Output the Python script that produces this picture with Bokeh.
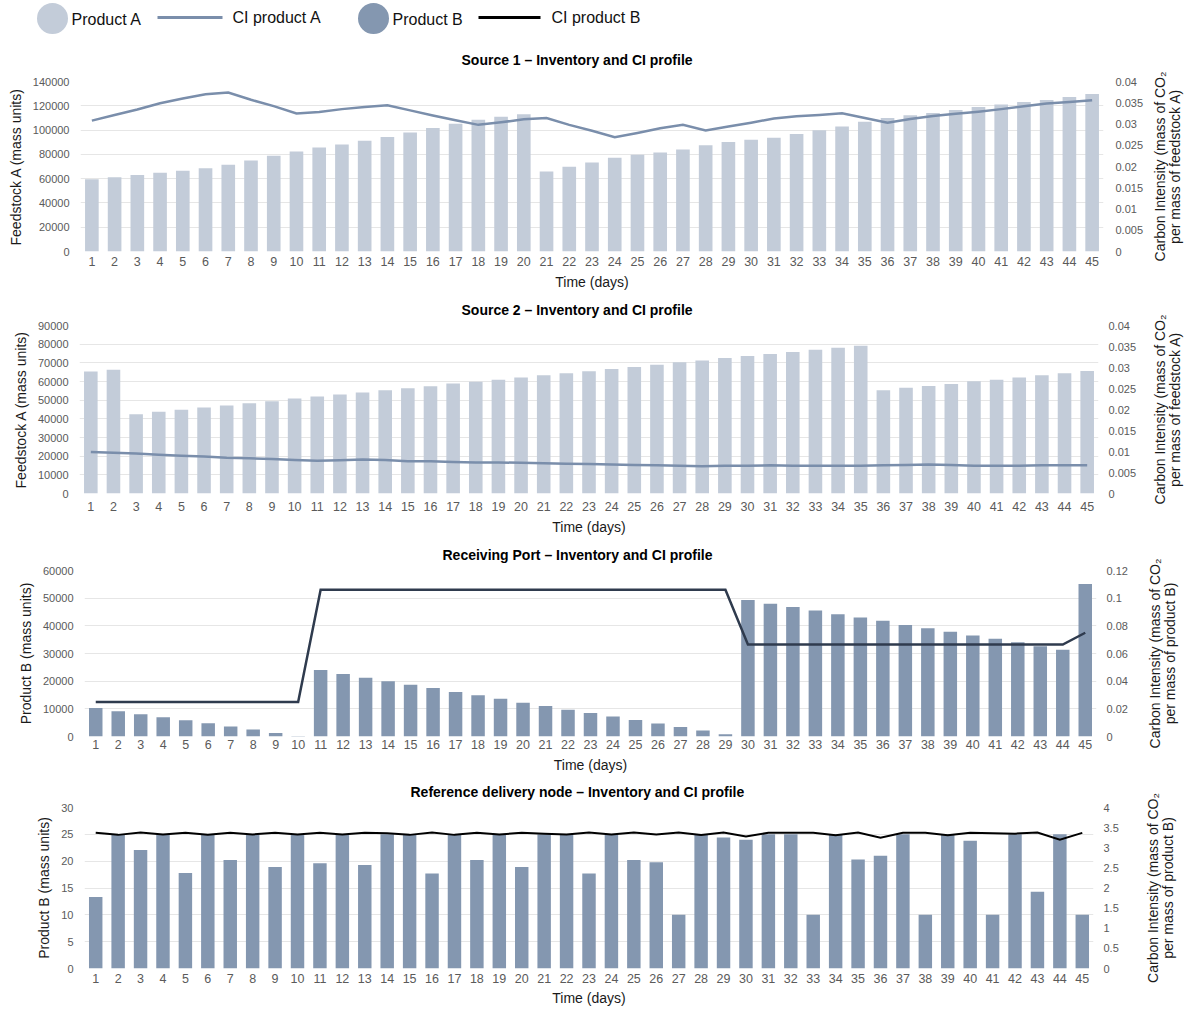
from bokeh.plotting import figure
from bokeh.layouts import row
from bokeh.models import Range1d, LinearAxis, FixedTicker, CustomJSTickFormatter, Title
from bokeh.core.properties import value
from bokeh.embed import file_html
from bokeh.resources import INLINE

# ---------------- data ----------------
days = list(range(1, 46))

s1_inventory = [59500, 61200, 63100, 64800, 66400, 68600, 71400, 75000, 78800, 82400,
                85700, 88200, 91200, 94300, 98100, 101700, 105300, 108600, 111000, 113000,
                65900, 69700, 73300, 77200, 79600, 81600, 84000, 87600, 90100, 92000,
                93700, 96700, 99800, 103000, 106900, 110000, 112200, 114100, 116600, 119000,
                121000, 123200, 124800, 127300, 129800]
s1_ci = [0.0308, 0.0321, 0.0334, 0.0349, 0.0360, 0.0370, 0.0374, 0.0357, 0.0342, 0.0325,
         0.0328, 0.0335, 0.0340, 0.0344, 0.0332, 0.0320, 0.0309, 0.0298, 0.0304, 0.0311,
         0.0314, 0.0298, 0.0284, 0.0269, 0.0279, 0.0290, 0.0298, 0.0285, 0.0294, 0.0303,
         0.0313, 0.0318, 0.0321, 0.0325, 0.0314, 0.0303, 0.0312, 0.0319, 0.0324, 0.0329,
         0.0335, 0.0342, 0.0348, 0.0352, 0.0356]

s2_inventory = [65300, 66300, 42500, 43800, 44800, 46100, 47100, 48400, 49400, 50900,
                51900, 53000, 54100, 55300, 56400, 57500, 58900, 59900, 61000, 62100,
                63300, 64400, 65500, 66700, 67800, 69000, 70300, 71200, 72600, 73600,
                74700, 75800, 77000, 78100, 79200, 55300, 56600, 57600, 58700, 60100,
                61000, 62100, 63300, 64400, 65600]
s2_ci = [0.0099, 0.0097, 0.0095, 0.0092, 0.0090, 0.0088, 0.0085, 0.0084, 0.0082, 0.0080,
         0.0078, 0.0079, 0.0081, 0.0080, 0.0077, 0.0077, 0.0075, 0.0074, 0.0074, 0.0073,
         0.0072, 0.0071, 0.0070, 0.0069, 0.0068, 0.0067, 0.0066, 0.0065, 0.0066, 0.0066,
         0.0067, 0.0066, 0.0066, 0.0066, 0.0066, 0.0067, 0.0068, 0.0069, 0.0068, 0.0066,
         0.0066, 0.0066, 0.0067, 0.0067, 0.0067]

port_inventory = [10300, 9100, 8000, 7000, 5900, 4800, 3600, 2500, 1300, 200,
                  24000, 22600, 21200, 20000, 18700, 17500, 16100, 14900, 13600, 12200,
                  11000, 9700, 8500, 7200, 6000, 4700, 3400, 2200, 800, 49300,
                  48000, 46800, 45500, 44200, 43000, 41800, 40300, 39100, 37900, 36500,
                  35300, 34100, 32600, 31400, 55100]
port_ci = [0.025] * 10 + [0.106] * 19 + [0.0665] * 15 + [0.075]

node_inventory = [13.3, 25, 22.1, 25, 17.8, 25, 20.2, 25, 18.9, 25,
                  19.6, 25, 19.3, 25, 25, 17.7, 25, 20.2, 25, 18.9,
                  25, 25, 17.7, 25, 20.2, 19.8, 10, 25, 24.4, 24,
                  25, 25, 10, 25, 20.3, 21, 25, 10, 25, 23.8,
                  10, 25, 14.3, 25, 10]
node_ci = [3.37, 3.32, 3.38, 3.33, 3.37, 3.32, 3.37, 3.33, 3.37, 3.33,
           3.37, 3.33, 3.37, 3.36, 3.32, 3.38, 3.32, 3.37, 3.33, 3.37,
           3.35, 3.33, 3.38, 3.33, 3.38, 3.33, 3.38, 3.32, 3.38, 3.28,
           3.37, 3.37, 3.37, 3.31, 3.38, 3.25, 3.37, 3.37, 3.31, 3.37,
           3.36, 3.35, 3.38, 3.20, 3.37]

titles = ["Source 1 \u2013 Inventory and CI profile",
          "Source 2 \u2013 Inventory and CI profile",
          "Receiving Port \u2013 Inventory and CI profile",
          "Reference delivery node \u2013 Inventory and CI profile"]
ci_a_label = "Carbon Intensity (mass of CO\u2082\nper mass of feedstock A)"
ci_b_label = "Carbon Intensity (mass of CO\u2082\nper mass of product B)"

# ---------------- style ----------------
COL_A = "#c3ccd9"
COL_B = "#8497b0"
COL_CI_A = "#7a8eab"
COL_CI_PORT = "#2f3b4e"
COL_CI_NODE = "#000000"
FONT = "Liberation Sans"
TICK_COL = "#5a5a5a"
GRID_COL = "#e6e6e6"

fmt = CustomJSTickFormatter(code="return String(Math.round(tick*10000)/10000);")


def make_panel(title, t_offset, t_standoff, inv, ci, bar_col, line_col, line_w,
               ymax, ystep, rmax, rstep, left_label, panel_w,
               frame_left, frame_right, frame_top, frame_bottom, b_top, b_bottom,
               xl_standoff, xa_standoff, rl_standoff):
    p = figure(frame_width=frame_right - frame_left, frame_height=frame_bottom - frame_top,
               min_border_left=frame_left, min_border_right=panel_w - frame_right,
               min_border_top=b_top, min_border_bottom=b_bottom,
               x_range=Range1d(0.5, 45.5), y_range=Range1d(0, ymax),
               output_backend="svg", toolbar_location=None, tools="")
    p.outline_line_color = None
    p.border_fill_color = "white"
    p.extra_y_ranges = {"ci": Range1d(0, rmax)}
    p.title = Title(text=title, align="left", offset=t_offset, standoff=t_standoff,
                    vertical_align="middle",
                    text_font=FONT, text_font_style="bold", text_font_size="14px",
                    text_color="#000000")

    p.vbar(x=days, top=inv, width=0.6, color=bar_col, line_color=None)
    p.line(x=days, y=ci, y_range_name="ci", line_color=line_col, line_width=line_w,
           line_join="miter")

    xa = p.xaxis[0]
    xa.ticker = FixedTicker(ticks=days)
    xa.axis_label = "Time (days)"
    ya = p.yaxis[0]
    ya.ticker = FixedTicker(ticks=[i * ystep for i in range(int(round(ymax / ystep)) + 1)])
    ya.formatter = fmt
    ya.axis_label = left_label
    ra = LinearAxis(y_range_name="ci",
                    ticker=FixedTicker(ticks=[round(i * rstep, 4) for i in range(int(round(rmax / rstep)) + 1)]),
                    formatter=fmt)
    p.add_layout(ra, "right")

    for ax in (xa, ya, ra):
        ax.axis_line_color = None
        ax.major_tick_line_color = None
        ax.minor_tick_line_color = None
        ax.major_tick_out = 0
        ax.major_tick_in = 0
        ax.minor_tick_out = 0
        ax.minor_tick_in = 0
        ax.major_label_text_font = FONT
        ax.major_label_text_color = TICK_COL
        ax.axis_label_text_font = FONT
        ax.axis_label_text_font_style = "normal"
        ax.axis_label_text_font_size = "14px"
        ax.axis_label_text_color = "#1a1a1a"
    xa.major_label_text_font_size = "12.5px"
    xa.major_label_standoff = xl_standoff
    xa.axis_label_standoff = xa_standoff
    ya.major_label_text_font_size = "11px"
    ya.major_label_standoff = 11
    ya.axis_label_standoff = 6
    ra.major_label_text_font_size = "11px"
    ra.major_label_standoff = rl_standoff

    p.xgrid.grid_line_color = None
    p.ygrid.grid_line_color = GRID_COL
    p.ygrid.grid_line_width = 1
    return p


def side_label(text, panel_w, frame_top, frame_bottom, b_top, b_bottom, frame_x):
    """Right-hand axis title, reading bottom to top, beside a chart."""
    lf = figure(frame_width=1190 - frame_x, frame_height=frame_bottom - frame_top,
                min_border_left=frame_x - panel_w, min_border_right=0,
                min_border_top=b_top, min_border_bottom=b_bottom,
                x_range=Range1d(0, 1), y_range=Range1d(0, 1),
                output_backend="svg", toolbar_location=None, tools="")
    lf.outline_line_color = None
    lf.xaxis.visible = False
    lf.grid.visible = False
    ax = lf.yaxis[0]
    ax.ticker = FixedTicker(ticks=[])
    ax.axis_line_color = None
    ax.major_tick_out = 0
    ax.major_tick_in = 0
    ax.minor_tick_out = 0
    ax.minor_tick_in = 0
    ax.axis_label = text
    ax.axis_label_standoff = 3
    ax.axis_label_text_font = FONT
    ax.axis_label_text_font_style = "normal"
    ax.axis_label_text_font_size = "14px"
    ax.axis_label_text_line_height = 0.9
    ax.axis_label_text_color = "#1a1a1a"
    return lf


# ---- Source 1 (page y 37..293) ----
p1 = make_panel(titles[0], 381, 26, s1_inventory, s1_ci, COL_A, COL_CI_A, 2.5,
                140000, 20000, 0.04, 0.005, "Feedstock A (mass units)", 1146,
                80, 1103, 81, 251, 44, 42, 5, 5, 12)
l1 = side_label(ci_a_label, 1146, 81, 251, 44, 42, 1185)

# ---- Source 2 (page y 293..538) ----
p2 = make_panel(titles[1], 382, 14, s2_inventory, s2_ci, COL_A, COL_CI_A, 2.5,
                90000, 10000, 0.04, 0.005, "Feedstock A (mass units)", 1146,
                79, 1098, 325, 493, 32, 45, 8, 5, 10)
l2 = side_label(ci_a_label, 1146, 325, 493, 32, 45, 1185)

# ---- Receiving port (page y 538..776) ----
p3 = make_panel(titles[2], 358, 14, port_inventory, port_ci, COL_B, COL_CI_PORT, 2.5,
                60000, 10000, 0.12, 0.02, "Product B (mass units)", 1134,
                84, 1096, 570, 736, 32, 40, 3, 5, 10)
l3 = side_label(ci_b_label, 1134, 570, 736, 32, 40, 1180)

# ---- Reference delivery node (page y 776..1009) ----
p4 = make_panel(titles[3], 326, 13, node_inventory, node_ci, COL_B, COL_CI_NODE, 2,
                30, 5, 4, 0.5, "Product B (mass units)", 1134,
                84, 1093, 807, 968, 31, 41, 5, 4, 10)
l4 = side_label(ci_b_label, 1134, 807, 968, 31, 41, 1178)

# ---------------- legend strip ----------------
leg = figure(frame_width=1190, frame_height=37, min_border=0,
             x_range=Range1d(0, 1190), y_range=Range1d(37, 0),
             output_backend="svg", toolbar_location=None, tools="")
leg.axis.visible = False
leg.grid.visible = False
leg.outline_line_color = None
leg.scatter(x=[52], y=[18], size=31, color=COL_A, line_color=None)
leg.scatter(x=[373], y=[18], size=31, color=COL_B, line_color=None)
leg.segment(x0=[157], y0=[17], x1=[222], y1=[17], line_color=COL_CI_A, line_width=3)
leg.segment(x0=[478], y0=[17], x1=[540], y1=[17], line_color="#000000", line_width=3)
leg.text(x=[71, 232, 392, 551], y=[19, 17, 19, 17],
         text=["Product A", "CI product A", "Product B", "CI product B"],
         text_font=value(FONT), text_font_size="16px", text_color="#111111",
         text_baseline="middle", text_align="left")

roots = [leg, row(p1, l1), row(p2, l2), row(p3, l3), row(p4, l4)]
with open("out.html", "w") as f:
    f.write(file_html(roots, INLINE))
